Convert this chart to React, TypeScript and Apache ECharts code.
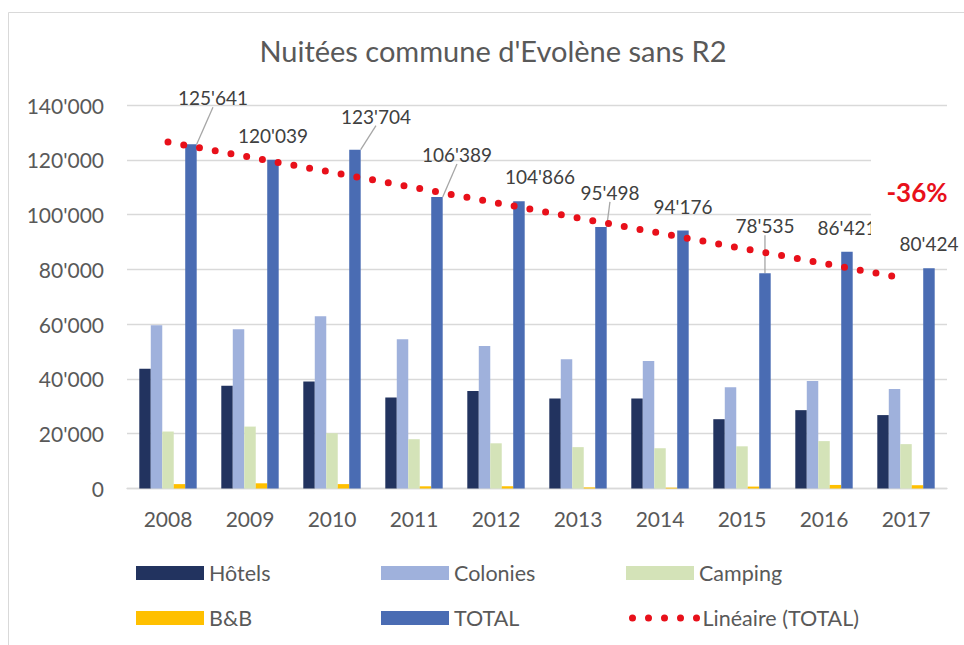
import React, { useEffect, useRef } from 'react';
import * as echarts from 'echarts';

const years = ['2008', '2009', '2010', '2011', '2012', '2013', '2014', '2015', '2016', '2017'];
const hotels = [43700, 37500, 39100, 33200, 35600, 32900, 32900, 25300, 28600, 26800];
const colonies = [59600, 58100, 62900, 54500, 52000, 47200, 46500, 37000, 39200, 36300];
const camping = [20800, 22600, 20200, 18000, 16500, 15100, 14700, 15400, 17300, 16200];
const bnb = [1600, 1900, 1600, 800, 800, 400, 300, 700, 1300, 1200];
const total = [125641, 120039, 123704, 106389, 104866, 95498, 94176, 78535, 86421, 80424];
const trend: (number | null)[] = [126500, null, null, null, null, null, null, null, null, 76600];
const yMin = 0;
const yMax = 140000;
const yStep = 20000;
const changeLabel = '-36%';

// label displacement (layout only)
const labelShift: [number, number][] = [
  [22, -22], [0, 0], [21, -9], [20, -18], [21, 0], [9, -10], [0, 0], [0, -23], [0, 0], [0, 0],
];
const leaderLines = [0, 2, 3, 5, 7];

const fmt = (v: number) => String(Math.round(v)).replace(/\B(?=(\d{3})+(?!\d))/g, "'");

const FONT = 'Lato, "Noto Sans", sans-serif';
const TXT = '#595959';
const RED = '#e8101a';

export default function App() {
  const ref = useRef<HTMLDivElement>(null);
  useEffect(() => {
    if (!ref.current) return;
    const chart = echarts.init(ref.current, undefined, { renderer: 'svg' });
    const option: any = {
      animation: false,
      backgroundColor: '#ffffff',
      textStyle: { fontFamily: FONT },
      title: {
        text: "Nuitées commune d'Evolène sans R2",
        left: 493,
        top: 36,
        padding: 0,
        textAlign: 'center',
        textStyle: { fontFamily: FONT, fontSize: 29, fontWeight: 'normal', color: TXT },
      },
      grid: { left: 127, right: 17, top: 105, bottom: 156.5, containLabel: false },
      xAxis: {
        type: 'category',
        data: years,
        axisTick: { show: false },
        axisLine: { show: true, lineStyle: { color: '#d9d9d9', width: 1.3 } },
        axisLabel: { color: TXT, fontSize: 21, fontFamily: FONT, margin: 19 },
      },
      yAxis: {
        type: 'value',
        min: yMin,
        max: yMax,
        interval: yStep,
        axisLine: { show: false },
        axisTick: { show: false },
        splitLine: { lineStyle: { color: '#d9d9d9', width: 1.3 } },
        axisLabel: { color: TXT, fontSize: 21, fontFamily: FONT, margin: 23, formatter: (v: number) => fmt(v) },
      },
      legend: {
        left: 136,
        top: 550.5,
        padding: 0,
        width: 760,
        itemWidth: 68,
        itemHeight: 14,
        itemGap: 0,
        selectedMode: false,
        textStyle: { color: TXT, fontSize: 21.5, fontFamily: FONT, width: 172, lineHeight: 45 },
        data: [
          { name: 'Hôtels', icon: 'rect' },
          { name: 'Colonies', icon: 'rect' },
          { name: 'Camping', icon: 'rect' },
          { name: 'B&B', icon: 'rect' },
          { name: 'TOTAL', icon: 'rect' },
          {
            name: 'Linéaire (TOTAL)',
            itemStyle: { opacity: 0, color: 'rgba(0,0,0,0)', borderWidth: 0 },
            lineStyle: { color: RED, width: 7, type: [0, 16], cap: 'round', dashOffset: -3 },
          },
        ],
      },
      series: [
        { name: 'Hôtels', type: 'bar', data: hotels, barGap: '0%', barCategoryGap: '30%', itemStyle: { color: '#22335f' } },
        { name: 'Colonies', type: 'bar', data: colonies, itemStyle: { color: '#9fb1dc' } },
        { name: 'Camping', type: 'bar', data: camping, itemStyle: { color: '#d4e3b8' } },
        { name: 'B&B', type: 'bar', data: bnb, itemStyle: { color: '#ffc000' } },
        {
          name: 'TOTAL',
          type: 'bar',
          data: total.map((v, i) => ({
            value: v,
            labelLine: { show: leaderLines.includes(i), lineStyle: { color: '#a6a6a6', width: 1.3 } },
          })),
          itemStyle: { color: '#4a6cb3' },
          label: {
            show: true,
            position: 'top',
            distance: 15,
            color: '#404040',
            fontSize: 19,
            fontFamily: FONT,
            formatter: (p: any) => fmt(p.value),
          },
          labelLayout: (p: any) => ({ dx: labelShift[p.dataIndex][0], dy: labelShift[p.dataIndex][1] }),
        },
        {
          name: 'Linéaire (TOTAL)',
          type: 'line',
          data: trend,
          connectNulls: true,
          symbol: 'none',
          z: 5,
          itemStyle: { color: RED },
          lineStyle: { color: RED, width: 7, type: [0, 16], cap: 'round' },
        },
      ],
      graphic: [
        {
          type: 'rect',
          silent: true,
          shape: { x: 8.5, y: 12.5, width: 2000, height: 2000 },
          style: { fill: 'none', stroke: '#d9d9d9', lineWidth: 1 },
          z: 0,
        },
        {
          type: 'rect',
          silent: true,
          shape: { x: 871, y: 150, width: 100, height: 86 },
          style: { fill: '#ffffff' },
          z: 100,
        },
        {
          type: 'text',
          silent: true,
          x: 917,
          y: 192,
          z: 101,
          style: {
            text: changeLabel,
            fill: RED,
            fontSize: 26,
            fontWeight: 'bold',
            fontFamily: FONT,
            align: 'center',
            verticalAlign: 'middle',
          },
        },
      ],
    };
    chart.setOption(option);
    return () => chart.dispose();
  }, []);
  return <div ref={ref} style={{ position: 'absolute', left: 0, top: 0, width: 964, height: 645 }} />;
}
